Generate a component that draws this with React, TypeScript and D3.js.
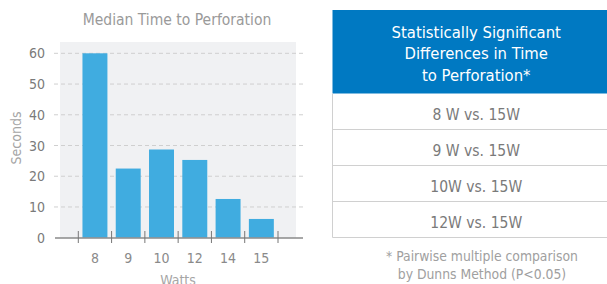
import * as d3 from "d3";
import { useEffect, useRef } from "react";

const watts = ["8", "9", "10", "12", "14", "15"];
const medianSeconds = [60, 22.5, 28.7, 25.3, 12.6, 6.1];
const yTicks = [0, 10, 20, 30, 40, 50, 60];
const comparisons = ["8 W vs. 15W", "9 W vs. 15W", "10W vs. 15W", "12W vs. 15W"];
const headerLines = ["Statistically Significant", "Differences in Time", "to Perforation*"];
const footnoteLines = ["* Pairwise multiple comparison", "by Dunns Method (P<0.05)"];

const FONT = "'Liberation Sans Narrow', 'DejaVu Sans Condensed', Roboto, sans-serif";

const App = () => {
  const ref = useRef<SVGSVGElement>(null);

  useEffect(() => {
    const svg = d3.select(ref.current);
    svg.selectAll("*").remove();

    // chart area
    const plot = { left: 60, right: 296, top: 42, bottom: 238 };

    const x = d3
      .scaleBand()
      .domain(watts)
      .range([78.3, 278])
      .paddingInner(0.25)
      .paddingOuter(0.125);

    const y = d3.scaleLinear().domain([0, 60]).range([237.7, 53.3]);

    svg
      .append("rect")
      .attr("x", plot.left)
      .attr("y", plot.top)
      .attr("width", plot.right - plot.left)
      .attr("height", plot.bottom - plot.top)
      .attr("fill", "#f0f1f3");

    svg
      .append("text")
      .attr("x", 177)
      .attr("y", 25)
      .attr("text-anchor", "middle")
      .attr("font-size", 15.5)
      .attr("fill", "#9a9a9a")
      .text("Median Time to Perforation");

    // grid lines
    svg
      .append("g")
      .selectAll("line")
      .data(yTicks.filter((d) => d > 0))
      .join("line")
      .attr("x1", 54)
      .attr("x2", 304)
      .attr("y1", (d) => y(d))
      .attr("y2", (d) => y(d))
      .attr("stroke", "#cfcfcf")
      .attr("stroke-dasharray", "4,3");

    // y tick labels
    svg
      .append("g")
      .selectAll("text")
      .data(yTicks)
      .join("text")
      .attr("x", 45)
      .attr("y", (d) => y(d) + 5)
      .attr("text-anchor", "end")
      .attr("font-size", 14)
      .attr("fill", "#7a7a7a")
      .text((d) => d);

    svg
      .append("text")
      .attr("transform", "translate(21,138) rotate(-90)")
      .attr("text-anchor", "middle")
      .attr("font-size", 14)
      .attr("fill", "#a5a5a5")
      .text("Seconds");

    // bars
    svg
      .append("g")
      .selectAll("rect")
      .data(medianSeconds)
      .join("rect")
      .attr("x", (d, i) => x(watts[i]) as number)
      .attr("y", (d) => y(d))
      .attr("width", x.bandwidth())
      .attr("height", (d) => y(0) - y(d))
      .attr("fill", "#40ace0");

    // x axis
    svg
      .append("line")
      .attr("x1", 55)
      .attr("x2", 303)
      .attr("y1", 238)
      .attr("y2", 238)
      .attr("stroke", "#8a8a8a")
      .attr("stroke-width", 1.5);

    const step = x.step();
    const tickXs = watts.map((w) => (x(w) as number) - (step * 0.25) / 2);
    tickXs.push(tickXs[tickXs.length - 1] + step);
    svg
      .append("g")
      .selectAll("line")
      .data(tickXs)
      .join("line")
      .attr("x1", (d) => d)
      .attr("x2", (d) => d)
      .attr("y1", 231)
      .attr("y2", 243)
      .attr("stroke", "#777")
      .attr("stroke-width", 1);

    svg
      .append("g")
      .selectAll("text")
      .data(watts)
      .join("text")
      .attr("x", (d) => (x(d) as number) + x.bandwidth() / 2)
      .attr("y", 263)
      .attr("text-anchor", "middle")
      .attr("font-size", 14)
      .attr("fill", "#8a8a8a")
      .text((d) => d);

    svg
      .append("text")
      .attr("x", 178)
      .attr("y", 285)
      .attr("text-anchor", "middle")
      .attr("font-size", 14)
      .attr("fill", "#a5a5a5")
      .text("Watts");

    // table
    const tbl = { left: 332.5, right: 620, top: 10, headerBottom: 93.5 };
    const rowY = d3
      .scaleBand()
      .domain(comparisons)
      .range([tbl.headerBottom, tbl.headerBottom + 36 * comparisons.length]);
    const cx = (tbl.left + tbl.right) / 2;

    svg
      .append("rect")
      .attr("x", tbl.left)
      .attr("y", tbl.top)
      .attr("width", tbl.right - tbl.left)
      .attr("height", tbl.headerBottom - tbl.top)
      .attr("fill", "#0079c2");

    svg
      .append("g")
      .selectAll("text")
      .data(headerLines)
      .join("text")
      .attr("x", cx)
      .attr("y", (d, i) => 37.5 + i * 21.5)
      .attr("text-anchor", "middle")
      .attr("font-size", 16.5)
      .attr("fill", "#ffffff")
      .text((d) => d);

    svg
      .append("line")
      .attr("x1", tbl.left)
      .attr("x2", tbl.left)
      .attr("y1", tbl.headerBottom)
      .attr("y2", tbl.headerBottom + 36 * comparisons.length)
      .attr("stroke", "#d0d0d0");

    const rows = svg
      .append("g")
      .selectAll("g")
      .data(comparisons)
      .join("g")
      .attr("transform", (d) => `translate(0,${rowY(d)})`);

    rows
      .append("line")
      .attr("x1", tbl.left)
      .attr("x2", tbl.right)
      .attr("y1", rowY.bandwidth())
      .attr("y2", rowY.bandwidth())
      .attr("stroke", "#d0d0d0")
      .attr("stroke-width", 1.2);

    rows
      .append("text")
      .attr("x", cx)
      .attr("y", 26.5)
      .attr("text-anchor", "middle")
      .attr("font-size", 15.5)
      .attr("fill", "#7a7a7a")
      .text((d) => d);

    svg
      .append("g")
      .selectAll("text")
      .data(footnoteLines)
      .join("text")
      .attr("x", 482)
      .attr("y", (d, i) => 261 + i * 17.5)
      .attr("text-anchor", "middle")
      .attr("font-size", 13.8)
      .attr("fill", "#a0a0a0")
      .text((d) => d);
  }, []);

  return (
    <svg
      ref={ref}
      width={607}
      height={284}
      style={{ position: "absolute", left: 0, top: 0, fontFamily: FONT }}
    />
  );
};

export default App;
